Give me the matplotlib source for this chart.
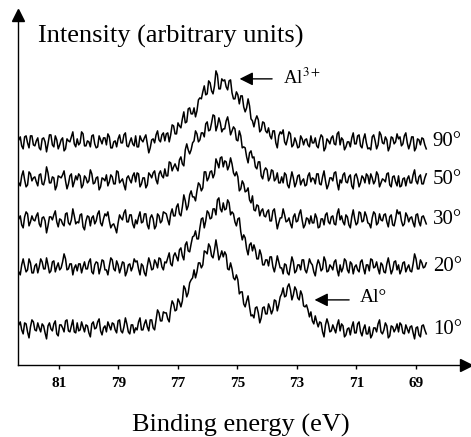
import numpy as np
import matplotlib.pyplot as plt

plt.rcParams['font.family'] = ['Liberation Serif', 'DejaVu Serif']
plt.rcParams['mathtext.fontset'] = 'stix'

# binding energy grid (eV) and spectra (arbitrary units)
energy = np.linspace(82.35, 68.65, 280)
angles = ['90°', '50°', '30°', '20°', '10°']
ticks = [81, 79, 77, 75, 73, 71, 69]

s90 = [225, 228, 219, 216, 228, 229, 222, 217, 229, 229, 220, 219, 224, 227, 217, 215, 226, 227, 223, 213,
       221, 230, 230, 220, 218, 229, 225, 216, 220, 225, 227, 214, 216, 226, 224, 223, 228, 233, 221, 218,
       226, 220, 222, 233, 231, 219, 219, 224, 223, 218, 229, 230, 221, 217, 218, 229, 225, 221, 227, 227,
       220, 231, 228, 217, 217, 223, 224, 218, 226, 230, 222, 222, 230, 232, 219, 218, 223, 227, 221, 219,
       229, 218, 218, 229, 225, 223, 227, 230, 221, 212, 217, 225, 226, 222, 230, 234, 225, 223, 230, 232,
       224, 231, 232, 223, 230, 240, 239, 231, 231, 242, 239, 237, 246, 253, 242, 243, 256, 257, 251, 251,
       257, 248, 254, 265, 267, 266, 273, 279, 270, 271, 284, 282, 274, 271, 279, 294, 290, 276, 276, 286,
       284, 285, 278, 275, 284, 285, 272, 266, 266, 273, 270, 261, 269, 269, 258, 253, 257, 266, 259, 246,
       244, 238, 245, 249, 245, 233, 235, 243, 242, 234, 232, 237, 229, 226, 234, 234, 222, 217, 229, 233,
       231, 235, 223, 220, 226, 233, 231, 218, 220, 227, 223, 217, 218, 229, 226, 220, 225, 226, 220, 218,
       229, 222, 222, 227, 219, 217, 225, 230, 228, 214, 217, 226, 224, 221, 227, 229, 221, 220, 231, 233,
       220, 227, 225, 215, 218, 223, 223, 218, 227, 232, 221, 221, 229, 230, 219, 217, 226, 231, 222, 216,
       217, 215, 228, 230, 224, 216, 220, 233, 230, 222, 221, 228, 225, 214, 218, 228, 227, 221, 223, 231,
       226, 228, 219, 221, 229, 232, 222, 216, 221, 228, 228, 214, 217, 226, 225, 220, 227, 226, 220, 216]

s50 = [182, 179, 189, 194, 185, 178, 180, 193, 191, 184, 187, 188, 183, 179, 190, 191, 181, 180, 186, 198,
       192, 182, 182, 188, 187, 175, 179, 189, 188, 187, 190, 194, 184, 176, 181, 189, 191, 178, 183, 189,
       185, 191, 189, 177, 180, 189, 187, 182, 184, 195, 191, 181, 182, 187, 188, 175, 178, 187, 186, 184,
       190, 179, 183, 190, 188, 181, 181, 194, 193, 182, 184, 186, 180, 175, 187, 189, 185, 182, 189, 192,
       183, 192, 191, 178, 181, 187, 187, 177, 180, 192, 190, 187, 192, 194, 185, 181, 191, 194, 189, 187,
       196, 189, 189, 203, 202, 194, 198, 201, 197, 194, 205, 208, 201, 199, 215, 221, 215, 211, 215, 222,
       224, 234, 231, 223, 225, 232, 232, 228, 241, 243, 234, 235, 242, 250, 249, 234, 239, 247, 242, 233,
       236, 236, 244, 248, 240, 230, 234, 238, 236, 225, 224, 234, 229, 217, 218, 217, 208, 202, 212, 214,
       207, 208, 198, 196, 203, 203, 189, 186, 194, 197, 195, 184, 187, 195, 194, 184, 186, 192, 182, 182,
       188, 182, 192, 190, 180, 177, 185, 193, 187, 178, 182, 189, 190, 180, 184, 186, 179, 180, 189, 192,
       183, 187, 186, 181, 191, 191, 181, 180, 188, 194, 184, 176, 180, 187, 187, 184, 192, 193, 182, 175,
       185, 182, 190, 192, 183, 182, 188, 190, 179, 176, 189, 191, 186, 178, 182, 189, 187, 182, 191, 189,
       181, 191, 187, 181, 184, 193, 190, 178, 182, 186, 185, 183, 191, 192, 180, 178, 188, 189, 183, 179,
       189, 178, 179, 186, 187, 179, 186, 189, 182, 182, 190, 195, 184, 181, 188, 190, 181, 181, 187, 191]

s30 = [146, 149, 140, 137, 148, 153, 151, 139, 143, 149, 145, 144, 149, 152, 141, 138, 147, 148, 144, 132,
       139, 148, 148, 145, 150, 154, 143, 138, 146, 145, 141, 139, 151, 152, 142, 140, 145, 156, 149, 141,
       143, 142, 150, 151, 138, 135, 144, 149, 148, 139, 147, 149, 141, 144, 151, 154, 142, 139, 146, 151,
       149, 153, 144, 137, 140, 141, 137, 132, 142, 150, 147, 145, 152, 155, 143, 143, 150, 150, 141, 137,
       145, 141, 148, 153, 142, 143, 151, 151, 140, 136, 147, 150, 146, 136, 139, 151, 149, 142, 144, 153,
       152, 151, 145, 140, 151, 156, 149, 149, 158, 161, 151, 149, 158, 170, 164, 155, 159, 170, 174, 168,
       168, 164, 174, 182, 180, 174, 177, 193, 193, 184, 187, 193, 194, 187, 191, 206, 202, 197, 207, 208,
       198, 204, 203, 195, 199, 207, 201, 192, 189, 193, 188, 174, 176, 184, 181, 173, 174, 177, 165, 162,
       169, 155, 154, 160, 159, 149, 154, 156, 149, 148, 153, 155, 144, 144, 154, 156, 146, 136, 142, 147,
       147, 156, 150, 143, 144, 147, 141, 137, 148, 151, 143, 144, 151, 155, 145, 137, 140, 147, 146, 141,
       149, 142, 142, 151, 147, 137, 138, 146, 146, 140, 150, 152, 143, 141, 148, 149, 141, 140, 151, 156,
       145, 149, 143, 140, 150, 148, 140, 137, 148, 155, 146, 140, 142, 153, 152, 143, 144, 153, 149, 142,
       141, 137, 147, 153, 151, 140, 142, 151, 145, 144, 150, 151, 143, 138, 148, 150, 140, 139, 146, 155,
       151, 153, 144, 139, 141, 152, 149, 143, 147, 148, 142, 138, 150, 151, 143, 139, 148, 149, 145, 141]

s20 = [93, 90, 100, 106, 99, 93, 95, 106, 102, 92, 92, 99, 101, 92, 98, 106, 103, 96, 96, 107,
       100, 92, 94, 103, 104, 93, 98, 102, 95, 97, 103, 111, 106, 95, 96, 101, 101, 90, 97, 100,
       94, 101, 101, 92, 98, 103, 96, 96, 103, 106, 93, 91, 100, 103, 102, 91, 97, 105, 104, 95,
       95, 90, 99, 107, 105, 96, 94, 104, 100, 92, 97, 103, 102, 89, 93, 100, 101, 94, 98, 106,
       103, 104, 96, 90, 101, 99, 92, 89, 99, 107, 102, 95, 96, 105, 102, 97, 107, 106, 98, 95,
       103, 102, 107, 112, 101, 99, 109, 112, 108, 104, 115, 117, 109, 105, 120, 123, 114, 113, 121, 128,
       129, 134, 126, 126, 137, 146, 147, 137, 144, 154, 152, 146, 147, 156, 156, 150, 165, 167, 156, 153,
       162, 155, 156, 165, 162, 150, 153, 151, 143, 139, 146, 147, 133, 125, 130, 127, 116, 110, 120, 122,
       114, 120, 115, 106, 106, 115, 110, 100, 100, 105, 105, 99, 108, 108, 98, 93, 100, 109, 103, 97,
       97, 91, 101, 100, 92, 90, 99, 108, 103, 92, 94, 100, 100, 95, 105, 105, 95, 92, 98, 106,
       102, 100, 93, 89, 99, 105, 101, 94, 96, 108, 104, 93, 94, 100, 98, 95, 103, 105, 95, 89,
       100, 93, 97, 106, 104, 95, 92, 103, 101, 91, 98, 100, 95, 93, 103, 105, 97, 91, 100, 100,
       94, 106, 105, 97, 98, 103, 96, 91, 102, 100, 93, 92, 101, 107, 99, 91, 95, 103, 104, 95,
       100, 91, 95, 102, 103, 93, 97, 100, 94, 93, 101, 111, 106, 96, 96, 105, 102, 97, 98, 102]

s10 = [40, 43, 35, 31, 42, 41, 33, 27, 38, 45, 43, 35, 34, 42, 37, 33, 41, 39, 32, 26,
       39, 42, 36, 34, 41, 44, 31, 29, 40, 40, 37, 33, 44, 45, 34, 33, 39, 45, 33, 32,
       42, 34, 35, 43, 38, 33, 40, 39, 32, 28, 41, 43, 36, 37, 43, 46, 34, 30, 37, 39,
       33, 43, 39, 35, 42, 41, 35, 32, 44, 45, 34, 32, 38, 47, 41, 33, 31, 40, 40, 32,
       37, 35, 43, 47, 35, 35, 41, 45, 38, 34, 45, 45, 37, 35, 45, 55, 52, 44, 44, 53,
       52, 52, 46, 43, 56, 64, 61, 54, 55, 66, 63, 58, 64, 79, 76, 68, 72, 82, 85, 87,
       95, 87, 93, 102, 102, 97, 100, 114, 113, 111, 121, 118, 109, 107, 115, 125, 116, 105, 109, 114,
       108, 113, 110, 96, 95, 102, 96, 87, 85, 90, 85, 71, 73, 73, 61, 58, 64, 69, 58, 49,
       50, 47, 57, 58, 52, 42, 47, 57, 58, 51, 51, 61, 57, 51, 55, 65, 64, 54, 60, 68,
       71, 77, 68, 69, 78, 81, 75, 65, 70, 78, 75, 67, 65, 74, 70, 59, 58, 60, 55, 48,
       53, 44, 41, 49, 43, 38, 43, 42, 33, 28, 40, 46, 41, 33, 34, 40, 36, 32, 40, 45,
       34, 41, 39, 28, 30, 36, 37, 30, 38, 43, 32, 32, 41, 43, 33, 29, 36, 40, 31, 31,
       38, 27, 30, 37, 37, 33, 41, 45, 33, 31, 35, 42, 39, 27, 29, 39, 38, 33, 36, 41,
       33, 42, 40, 32, 31, 40, 36, 32, 38, 39, 32, 26, 37, 38, 30, 28, 39, 40, 35, 31]

spectra = [s90, s50, s30, s20, s10]

fig = plt.figure(figsize=(4.71, 4.37), dpi=100)
ax = fig.add_axes([0.038, 0.165, 0.951, 0.801])

for name, s in zip(angles, spectra):
    ax.plot(energy, s, color='black', lw=1.1)
    ax.text(68.43, np.mean(s[-40:]), name, fontsize=15, ha='left', va='center')

ax.set_xlim(82.38, 67.32)
ax.set_ylim(0, 350)
ax.set_yticks([])
ax.set_xticks(ticks)
ax.set_xticklabels([str(t) for t in ticks], fontsize=11, fontweight='bold')
ax.tick_params(axis='x', direction='out', length=3, width=1, pad=6)

for side in ['top', 'right']:
    ax.spines[side].set_visible(False)
for side in ['left', 'bottom']:
    ax.spines[side].set_linewidth(1)
ax.plot(1, 0, '>k', ms=8, transform=ax.transAxes, clip_on=False)
ax.plot(0, 1, '^k', ms=8, transform=ax.transAxes, clip_on=False)

ax.text(81.71, 322, 'Intensity (arbitrary units)', fontsize=19, ha='left', va='baseline')
fig.text(0.512, 0.012, 'Binding energy (eV)', fontsize=19, ha='center', va='baseline')

arrow = dict(arrowstyle='-|>', color='black', lw=1, mutation_scale=20)
ax.annotate('', xy=(75.02, 286), xytext=(73.74, 286), arrowprops=arrow)
ax.text(73.47, 287, r'Al$^{3+}$', fontsize=13.5, ha='left', va='center')
ax.annotate('', xy=(72.5, 65), xytext=(71.15, 65), arrowprops=arrow)
ax.text(70.88, 67, 'Al°', fontsize=14, ha='left', va='center')

plt.savefig('out.png', dpi=100)
